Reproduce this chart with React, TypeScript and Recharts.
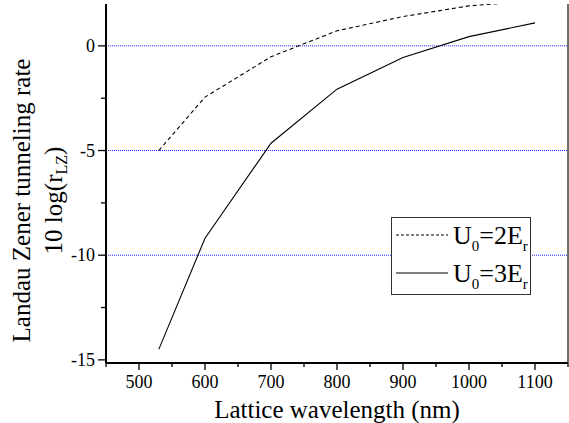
import { LineChart, Line, XAxis, YAxis, Legend, ReferenceLine } from "recharts";

const FONT = "Liberation Serif, Times New Roman, serif";
const txt = { fontFamily: FONT };

// wavelength in nm, rate as 10 log(r_LZ)
const wavelength = [530, 600, 700, 800, 900, 1000, 1100];
const rateU2 = [-5.0, -2.45, -0.52, 0.72, 1.4, 1.91, 2.15];
const rateU3 = [-14.5, -9.19, -4.65, -2.07, -0.56, 0.44, 1.1];

const xTicks = [450, 500, 550, 600, 650, 700, 750, 800, 850, 900, 950, 1000, 1050, 1100, 1150];
const yTicks = [-15, -12.5, -10, -7.5, -5, -2.5, 0];
const gridLevels = [0, -5, -10];

const series = [
  { key: "u2", u: "2", dash: "4 3", legendDash: "3 2" },
  { key: "u3", u: "3", dash: undefined, legendDash: undefined },
];

const data = wavelength.map((w, i) => ({ w, u2: rateU2[i], u3: rateU3[i] }));

const BottomTick = (props: any) => {
  const { x, y, payload } = props;
  const major = payload.value % 100 === 0;
  return (
    <g>
      <line x1={x} x2={x} y1={y} y2={y + (major ? 7 : 4)} stroke="#000" strokeWidth={1.3} />
      {major && payload.value >= 500 && payload.value <= 1100 && (
        <text x={x} y={y + 25} textAnchor="middle" fontSize={18} style={txt} fill="#000">
          {payload.value}
        </text>
      )}
    </g>
  );
};

const TopTick = (props: any) => {
  const { x, y } = props;
  return <line x1={x} x2={x} y1={y} y2={y - 3} stroke="#555" strokeWidth={1} />;
};

const LeftTick = (props: any) => {
  const { x, y, payload } = props;
  const major = payload.value % 5 === 0;
  return (
    <g>
      <line x1={x - (major ? 8 : 5)} x2={x} y1={y} y2={y} stroke="#000" strokeWidth={1.3} />
      {major && (
        <text x={x - 11} y={y + 6} textAnchor="end" fontSize={18} style={txt} fill="#000">
          {payload.value}
        </text>
      )}
    </g>
  );
};

const YLabel = (props: any) => {
  const vb = props.viewBox;
  const cy = vb.y + vb.height / 2 + 17;
  return (
    <g fontSize={25} fill="#000" style={txt}>
      <text x={30} y={cy} textAnchor="middle" style={txt} transform={`rotate(-90, 30, ${cy})`}>
        Landau Zener tunneling rate
      </text>
      <text x={62} y={cy} textAnchor="middle" style={txt} transform={`rotate(-90, 62, ${cy})`}>
        10 log(r<tspan fontSize={16} dy={5}>LZ</tspan>
        <tspan dy={-5}>)</tspan>
      </text>
    </g>
  );
};

const XLabel = (props: any) => {
  const vb = props.viewBox;
  return (
    <text x={vb.x + vb.width / 2} y={vb.y + 55} textAnchor="middle" style={txt} fontSize={25} fill="#000">
      Lattice wavelength (nm)
    </text>
  );
};

const LegendBox = () => (
  <svg width={141} height={78} style={{ display: "block" }}>
    <rect x={0.5} y={0.5} width={139} height={77} fill="#fff" stroke="#333" strokeWidth={1} />
    {series.map((s, i) => {
      const ly = 18 + i * 38;
      return (
        <g key={s.key}>
          <line x1={5} x2={57} y1={ly} y2={ly} stroke="#000" strokeWidth={1} strokeDasharray={s.legendDash} />
          <text x={62} y={ly + 9} style={txt} fontSize={26} fill="#000">
            U<tspan fontSize={15} dy={7}>0</tspan>
            <tspan dy={-7}>={s.u}E</tspan>
            <tspan fontSize={15} dy={7}>r</tspan>
          </text>
        </g>
      );
    })}
  </svg>
);

export default function App() {
  return (
    <div style={{ position: "absolute", left: 0, top: 0, background: "#fff", fontFamily: FONT }}>
      <LineChart width={569} height={423} data={data} margin={{ top: 4, right: 0, left: 0, bottom: 0 }}>
        {gridLevels.map((g) => (
          <ReferenceLine key={g} y={g} stroke="#1f1fff" strokeDasharray="1 1" strokeWidth={1} />
        ))}
        <XAxis
          dataKey="w"
          type="number"
          domain={[450, 1150]}
          ticks={xTicks}
          height={60}
          tickSize={0}
          tickMargin={0}
          tick={<BottomTick />}
          tickLine={false}
          axisLine={{ stroke: "#000", strokeWidth: 2 }}
          interval={0}
          label={<XLabel />}
        />
        <XAxis
          xAxisId="top"
          orientation="top"
          type="number"
          domain={[450, 1150]}
          ticks={xTicks}
          height={0}
          tickSize={0}
          tickMargin={0}
          tick={<TopTick />}
          tickLine={false}
          axisLine={{ stroke: "#222", strokeWidth: 1.3 }}
          interval={0}
        />
        <YAxis
          type="number"
          domain={[-15.15, 2]}
          allowDataOverflow
          ticks={yTicks}
          width={106}
          tickSize={0}
          tickMargin={0}
          tick={<LeftTick />}
          tickLine={false}
          axisLine={{ stroke: "#000", strokeWidth: 2 }}
          interval={0}
          label={<YLabel />}
        />
        <YAxis
          yAxisId="right"
          orientation="right"
          type="number"
          domain={[-15.15, 2]}
          width={1}
          tick={false}
          tickLine={false}
          axisLine={{ stroke: "#222", strokeWidth: 1.3 }}
        />
        {series.map((s) => (
          <Line
            key={s.key}
            dataKey={s.key}
            type="linear"
            stroke="#000"
            strokeWidth={1.1}
            strokeDasharray={s.dash}
            dot={false}
            isAnimationActive={false}
          />
        ))}
        <Legend
          layout="horizontal"
          verticalAlign="middle"
          align="center"
          wrapperStyle={{ left: 391, top: 217, width: 141, height: 78 }}
          content={<LegendBox />}
        />
      </LineChart>
    </div>
  );
}
